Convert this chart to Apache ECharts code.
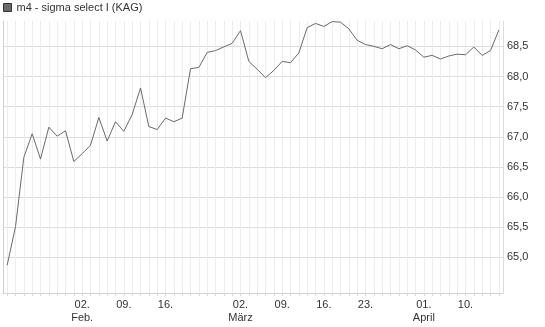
<!DOCTYPE html>
<html>
<head>
<meta charset="utf-8">
<script src="https://cdn.jsdelivr.net/npm/echarts@6/dist/echarts.min.js"></script>
<style>html,body{margin:0;padding:0;background:#fff}#c{width:545px;height:327px}</style>
</head>
<body>
<div id="c"></div>
<script>
const seriesName = 'm4 - sigma select I (KAG)';
const categories = [
  '20.01.','21.01.','22.01.','23.01.','26.01.','27.01.','28.01.','29.01.','30.01.',
  '02.02.','03.02.','04.02.','05.02.','06.02.',
  '09.02.','10.02.','11.02.','12.02.','13.02.',
  '16.02.','17.02.','18.02.','19.02.','20.02.',
  '24.02.','25.02.','26.02.','27.02.',
  '02.03.','03.03.','04.03.','05.03.','06.03.',
  '09.03.','10.03.','11.03.','12.03.','13.03.',
  '16.03.','17.03.','18.03.','19.03.','20.03.',
  '23.03.','24.03.','25.03.','26.03.','27.03.',
  '30.03.','31.03.','01.04.','02.04.',
  '07.04.','08.04.','09.04.','10.04.',
  '13.04.','14.04.','15.04.','16.04.'
];
const values = [
  64.87, 65.51, 66.66, 67.05, 66.63, 67.16, 67.01, 67.10, 66.59,
  66.72, 66.86, 67.32, 66.93, 67.25,
  67.09, 67.37, 67.81, 67.17, 67.12,
  67.31, 67.25, 67.31, 68.13, 68.15,
  68.40, 68.43, 68.49, 68.55,
  68.76, 68.25, 68.12, 67.98, 68.10,
  68.25, 68.23, 68.39, 68.81, 68.88,
  68.83, 68.91, 68.90, 68.79, 68.60,
  68.53, 68.50, 68.46, 68.53, 68.46,
  68.51, 68.44, 68.32, 68.35,
  68.29, 68.34, 68.37, 68.36,
  68.49, 68.35, 68.43, 68.77
];
const xLabelIndex = [9, 14, 19, 28, 33, 38, 43, 50, 55];
const xLabelText = ['02.\nFeb.', '09.', '16.', '02.\nMärz', '09.', '16.', '23.', '01.\nApril', '10.'];
const yTicks = [65.0, 65.5, 66.0, 66.5, 67.0, 67.5, 68.0, 68.5];
const yMin = 64.41, yMax = 68.92;

const chart = echarts.init(document.getElementById('c'), null, {renderer: 'canvas'});
const fontFamily = '"Liberation Sans", Arial, sans-serif';
chart.setOption({
  animation: false,
  backgroundColor: '#fff',
  legend: {
    left: 3, top: 2, padding: 0,
    itemWidth: 8, itemHeight: 8, itemGap: 5,
    icon: 'rect',
    textStyle: {fontSize: 11, color: '#333', fontFamily: fontFamily},
    data: [{name: seriesName, itemStyle: {color: '#6a6a6a', borderColor: '#333', borderWidth: 1}}]
  },
  grid: {left: 3, right: 42, top: 21, bottom: 34, containLabel: false},
  xAxis: {
    type: 'category',
    data: categories,
    boundaryGap: true,
    axisLine: {show: true, lineStyle: {color: '#d0d0d0', width: 1}},
    axisTick: {show: true, alignWithLabel: true, interval: 0, length: 3, lineStyle: {color: '#d8d8d8'}},
    splitLine: {show: true, alignWithLabel: true, interval: 0, lineStyle: {color: '#ececec', width: 1}},
    axisLabel: {
      interval: function (idx) { return xLabelIndex.indexOf(idx) >= 0; },
      formatter: function (v, idx) { const k = xLabelIndex.indexOf(idx); return k >= 0 ? xLabelText[k] : ''; },
      fontSize: 11, color: '#333', fontFamily: fontFamily, margin: 5, lineHeight: 13
    }
  },
  yAxis: [{
    type: 'value',
    position: 'right',
    min: yMin, max: yMax,
    axisLine: {show: true, lineStyle: {color: '#dcdcdc'}},
    axisTick: {show: false, customValues: yTicks},
    splitLine: {show: true, lineStyle: {color: '#dcdcdc', width: 1}},
    axisLabel: {
      customValues: yTicks,
      formatter: function (v) { return v.toFixed(1).replace('.', ','); },
      fontSize: 11, color: '#333', fontFamily: fontFamily, margin: 4
    }
  }, {
    type: 'value',
    position: 'left',
    min: yMin, max: yMax,
    axisLine: {show: true, lineStyle: {color: '#cfcfcf'}},
    axisTick: {show: false},
    splitLine: {show: false},
    axisLabel: {show: false}
  }],
  series: [{
    name: seriesName,
    type: 'line',
    yAxisIndex: 0,
    data: values,
    symbol: 'none',
    lineStyle: {color: '#6a6a6a', width: 1},
    itemStyle: {color: '#6a6a6a'}
  }]
});
</script>
</body>
</html>
